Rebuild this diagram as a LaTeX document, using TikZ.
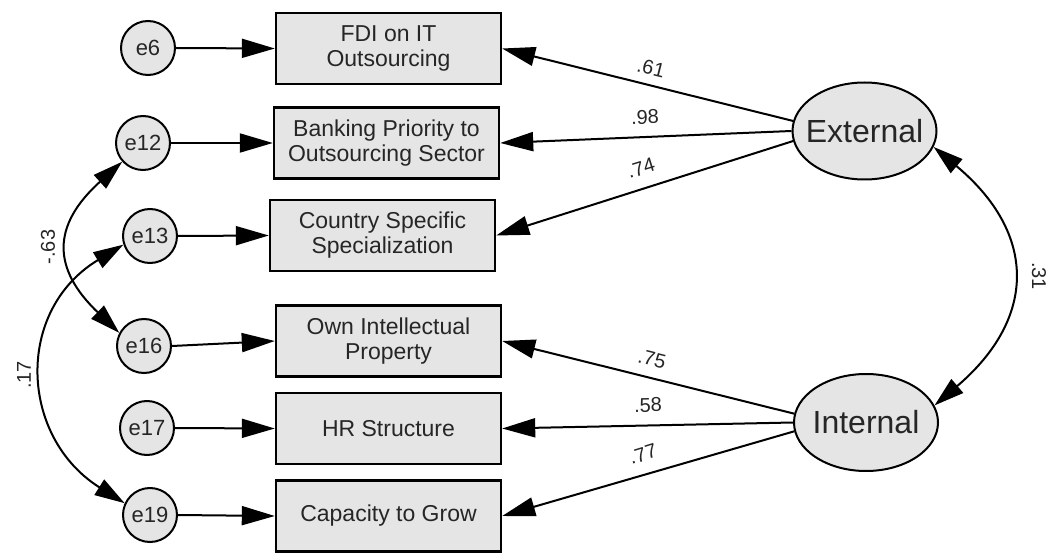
\documentclass[tikz,border=0pt]{standalone}
\usepackage{fontspec}
\setmainfont{Liberation Sans}
\usetikzlibrary{arrows.meta,shapes.geometric}
\begin{document}
\begin{tikzpicture}[x=1pt,y=-1pt,
  obs/.style={draw=black, line width=2.4pt, fill=gray!20, minimum width=225pt, minimum height=71pt, align=center, font=\fontsize{23}{25}\selectfont, text=black!85, inner sep=0pt},
  err/.style={circle, draw=black, line width=2pt, fill=gray!20, minimum size=54pt, inner sep=0pt, font=\fontsize{22}{24}\selectfont, text=black!85},
  lat/.style={ellipse, draw=black, line width=2pt, fill=gray!20, minimum width=144pt, minimum height=97pt, inner sep=0pt, font=\fontsize{32}{34}\selectfont, text=black!85},
  arr/.style={line width=2pt, -{Triangle[length=33pt,width=19pt]}},
  cov/.style={line width=2pt, {Triangle[length=30pt,width=18pt]}-{Triangle[length=30pt,width=18pt]}},
  coef/.style={font=\fontsize{20}{22}\selectfont, inner sep=0pt, text=black!85}
]
\fill[white] (0,0) rectangle (1049,553);
\useasboundingbox (0,0) rectangle (1049,553);

\node[obs] (fdi) at (388.5,48.5) {FDI on IT\\Outsourcing};
\node[obs] (bank) at (386.5,143) {Banking Priority to\\Outsourcing Sector};
\node[obs] (cty) at (382.5,235.5) {Country Specific\\Specialization};
\node[obs] (oip) at (388.5,341) {Own Intellectual\\Property};
\node[obs] (hr) at (388.5,428.5) {HR Structure};
\node[obs] (cap) at (388.5,516) {Capacity to Grow};

\node[err] (e6) at (148,48) {e6};
\node[err] (e12) at (143,143) {e12};
\node[err] (e13) at (150,236) {e13};
\node[err] (e16) at (144,346) {e16};
\node[err] (e17) at (147,428) {e17};
\node[err] (e19) at (150,515) {e19};

\node[lat] (ext) at (864.5,131) {\makebox[0pt]{External}};
\node[lat] (int) at (866,422.5) {\makebox[0pt]{Internal}};

\draw[arr] (e6.east) -- (fdi.west);
\draw[arr] (e12.east) -- (bank.west);
\draw[arr] (e13.east) -- (cty.west);
\draw[arr] (e16.east) -- (oip.west);
\draw[arr] (e17.east) -- (hr.west);
\draw[arr] (e19.east) -- (cap.west);

\draw[arr] (ext.172) -- (fdi.east);
\draw[arr] (ext.west) -- (bank.east);
\draw[arr] (ext.188) -- (cty.east);
\draw[arr] (int.173) -- (oip.east);
\draw[arr] (int.west) -- (hr.east);
\draw[arr] (int.187) -- (cap.east);

\draw[cov] (ext.-13) .. controls +(104,87) and +(102,-87) .. (int.14);
\draw[cov] (e12.222) .. controls +(-71,64) and +(-67,-64) .. (e16.152);
\draw[cov] (e13.198) .. controls +(-109,66) and +(-105,-66) .. (e19.155);

\node[coef, rotate=-14] (l61) at (651,68) {.61};
\node[coef, rotate=1.5] (l98) at (645,117) {.98};
\node[coef, rotate=17] (l74) at (641,168) {.74};
\node[coef, rotate=-14] (l75) at (652,359) {.75};
\node[coef, rotate=1.5] (l58) at (648,405) {.58};
\node[coef, rotate=17] (l77) at (643,454) {.77};
\node[coef, rotate=90] (l63) at (48,247) {-.63};
\node[coef, rotate=90] (l17) at (24,375) {.17};
\node[coef, rotate=-90] (l31) at (1039,276) {.31};
\end{tikzpicture}
\end{document}
